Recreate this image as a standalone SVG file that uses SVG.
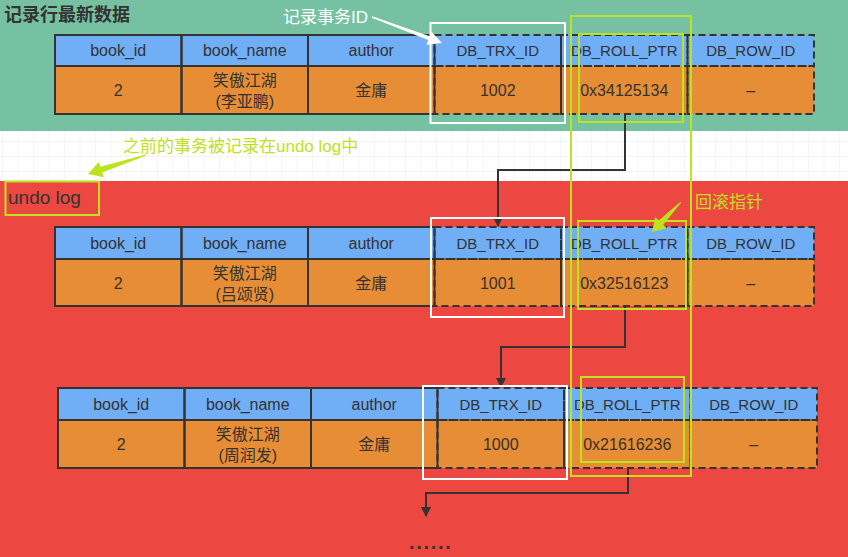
<svg xmlns="http://www.w3.org/2000/svg" width="848" height="557" viewBox="0 0 848 557">
<style>
text{font-family:"Liberation Sans","Noto Sans CJK SC",sans-serif;}
.h{fill:#70aef6;}
.d{fill:#e78d35;}
.s{fill:none;stroke:#333;stroke-width:2;}
.ds{fill:none;stroke:#333;stroke-width:2;stroke-dasharray:7 4;}
.t{font-size:16px;fill:#333;text-anchor:middle;}
.c{font-size:15px;}
.w{fill:none;stroke:#fff;stroke-width:2;}
.l{fill:none;stroke:#bde21e;stroke-width:2;}
.conn{fill:none;stroke:#333;stroke-width:2;}
.lt{font-size:17px;fill:#bde21e;}
</style>
<defs>
<pattern id="grid" x="2" y="6" width="15.5" height="15" patternUnits="userSpaceOnUse">
<path d="M0 0H15.5M0 0V15" fill="none" stroke="#ececec" stroke-width="1"/>
</pattern>
<marker id="ah" markerWidth="10" markerHeight="10" refX="9" refY="5" orient="auto" markerUnits="userSpaceOnUse">
<path d="M0 0L10 5L0 10z" fill="#333"/>
</marker>
</defs>
<rect x="0" y="0" width="848" height="131" fill="#76c1a2"/>
<rect x="0" y="131" width="848" height="50" fill="#fff"/>
<rect x="0" y="131" width="848" height="50" fill="url(#grid)"/>
<rect x="0" y="181" width="848" height="376" fill="#ec4841"/>

<g id="title"><text x="4" y="21" font-size="18" font-weight="bold" fill="#333">记录行最新数据</text></g>

<g id="table1">
<rect class="h" x="55" y="35" width="759" height="31"/>
<rect class="d" x="55" y="66" width="759" height="48"/>
<rect class="s" x="55" y="35" width="126.5" height="31"/><rect class="s" x="181.5" y="35" width="126.5" height="31"/><rect class="s" x="308" y="35" width="126.5" height="31"/>
<rect class="s" x="55" y="66" width="126.5" height="48"/><rect class="s" x="181.5" y="66" width="126.5" height="48"/><rect class="s" x="308" y="66" width="126.5" height="48"/>
<rect class="ds" x="434.5" y="35" width="126.5" height="31"/><rect class="ds" x="561" y="35" width="126.5" height="31"/><rect class="ds" x="687.5" y="35" width="126.5" height="31"/>
<rect class="ds" x="434.5" y="66" width="126.5" height="48"/><rect class="ds" x="561" y="66" width="126.5" height="48"/><rect class="ds" x="687.5" y="66" width="126.5" height="48"/>
<text class="t" x="118.25" y="56">book_id</text><text class="t" x="244.75" y="56">book_name</text><text class="t" x="371.25" y="56">author</text>
<text class="t c" x="497.75" y="56">DB_TRX_ID</text><text class="t c" x="624.25" y="56">DB_ROLL_PTR</text><text class="t c" x="750.75" y="56">DB_ROW_ID</text>
<text class="t" x="118.25" y="96">2</text>
<text class="t" x="244.75" y="86">笑傲江湖</text><text class="t" x="244.75" y="107">(李亚鹏)</text>
<text class="t" x="371.25" y="96">金庸</text>
<text class="t" x="497.75" y="96">1002</text><text class="t" x="624.25" y="96">0x34125134</text><text class="t" x="750.75" y="96">–</text>
</g>

<g id="table2">
<rect class="h" x="55" y="227" width="759" height="32"/>
<rect class="d" x="55" y="259" width="759" height="47"/>
<rect class="s" x="55" y="227" width="126.5" height="32"/><rect class="s" x="181.5" y="227" width="126.5" height="32"/><rect class="s" x="308" y="227" width="126.5" height="32"/>
<rect class="s" x="55" y="259" width="126.5" height="47"/><rect class="s" x="181.5" y="259" width="126.5" height="47"/><rect class="s" x="308" y="259" width="126.5" height="47"/>
<rect class="ds" x="434.5" y="227" width="126.5" height="32"/><rect class="ds" x="561" y="227" width="126.5" height="32"/><rect class="ds" x="687.5" y="227" width="126.5" height="32"/>
<rect class="ds" x="434.5" y="259" width="126.5" height="47"/><rect class="ds" x="561" y="259" width="126.5" height="47"/><rect class="ds" x="687.5" y="259" width="126.5" height="47"/>
<text class="t" x="118.25" y="248.5">book_id</text><text class="t" x="244.75" y="248.5">book_name</text><text class="t" x="371.25" y="248.5">author</text>
<text class="t c" x="497.75" y="248.5">DB_TRX_ID</text><text class="t c" x="624.25" y="248.5">DB_ROLL_PTR</text><text class="t c" x="750.75" y="248.5">DB_ROW_ID</text>
<text class="t" x="118.25" y="288.5">2</text>
<text class="t" x="244.75" y="278.5">笑傲江湖</text><text class="t" x="244.75" y="299.5">(吕颂贤)</text>
<text class="t" x="371.25" y="288.5">金庸</text>
<text class="t" x="497.75" y="288.5">1001</text><text class="t" x="624.25" y="288.5">0x32516123</text><text class="t" x="750.75" y="288.5">–</text>
</g>

<g id="table3">
<rect class="h" x="58" y="388" width="759" height="32"/>
<rect class="d" x="58" y="420" width="759" height="48"/>
<rect class="s" x="58" y="388" width="126.5" height="32"/><rect class="s" x="184.5" y="388" width="126.5" height="32"/><rect class="s" x="311" y="388" width="126.5" height="32"/>
<rect class="s" x="58" y="420" width="126.5" height="48"/><rect class="s" x="184.5" y="420" width="126.5" height="48"/><rect class="s" x="311" y="420" width="126.5" height="48"/>
<rect class="ds" x="437.5" y="388" width="126.5" height="32"/><rect class="ds" x="564" y="388" width="126.5" height="32"/><rect class="ds" x="690.5" y="388" width="126.5" height="32"/>
<rect class="ds" x="437.5" y="420" width="126.5" height="48"/><rect class="ds" x="564" y="420" width="126.5" height="48"/><rect class="ds" x="690.5" y="420" width="126.5" height="48"/>
<text class="t" x="121.25" y="409.5">book_id</text><text class="t" x="247.75" y="409.5">book_name</text><text class="t" x="374.25" y="409.5">author</text>
<text class="t c" x="500.75" y="409.5">DB_TRX_ID</text><text class="t c" x="627.25" y="409.5">DB_ROLL_PTR</text><text class="t c" x="753.75" y="409.5">DB_ROW_ID</text>
<text class="t" x="121.25" y="450">2</text>
<text class="t" x="247.75" y="440">笑傲江湖</text><text class="t" x="247.75" y="461">(周润发)</text>
<text class="t" x="374.25" y="450">金庸</text>
<text class="t" x="500.75" y="450">1000</text><text class="t" x="627.25" y="450">0x21616236</text><text class="t" x="753.75" y="450">–</text>
</g>

<g id="connectors">
<path class="conn" d="M625 114V170H498V226" marker-end="url(#ah)"/>
<path class="conn" d="M625 306V347H501V387" marker-end="url(#ah)"/>
<path class="conn" d="M628 468V493H426V516" marker-end="url(#ah)"/>
<polygon fill="#fff" points="371.8,17.7 428.2,40 426.5,44.7 442,43 431.3,31.5 429.6,36.2 372.2,16.3"/>
<polygon fill="#bde21e" points="146.2,155.5 102.2,172.5 103.8,177.2 88,174 98.8,162 100.4,166.7 145.8,154.5"/>
<polygon fill="#bde21e" points="681.4,202.3 663.2,224.8 666.8,228.3 652,232 655.2,217.1 658.8,220.6 680.6,201.7"/>
</g>

<g id="highlight-trx">
<rect class="w" x="430.5" y="23" width="134.5" height="100"/>
<rect class="w" x="431" y="218" width="133" height="99"/>
<rect class="w" x="423" y="386" width="144" height="93"/>
</g>
<g id="highlight-roll">
<rect class="l" x="571" y="16" width="120" height="460"/>
<rect class="l" x="579" y="34" width="104" height="88"/>
<rect class="l" x="578" y="221" width="108" height="88"/>
<rect class="l" x="581" y="377" width="103" height="85"/>
</g>

<g id="label-trx"><text x="283" y="23" font-size="17" fill="#fff">记录事务ID</text></g>
<g id="label-prev"><text class="lt" x="123" y="152">之前的事务被记录在undo log中</text></g>
<g id="label-roll"><text class="lt" x="695" y="208">回滚指针</text></g>
<g id="undo-log">
<rect class="l" x="5.5" y="181.5" width="93.5" height="33.5"/>
<text x="8" y="204" font-size="19" fill="#333">undo log</text>
</g>
<g id="more"><text x="409" y="549" font-size="20" font-weight="bold" fill="#333" letter-spacing="1.7">......</text></g>
</svg>
